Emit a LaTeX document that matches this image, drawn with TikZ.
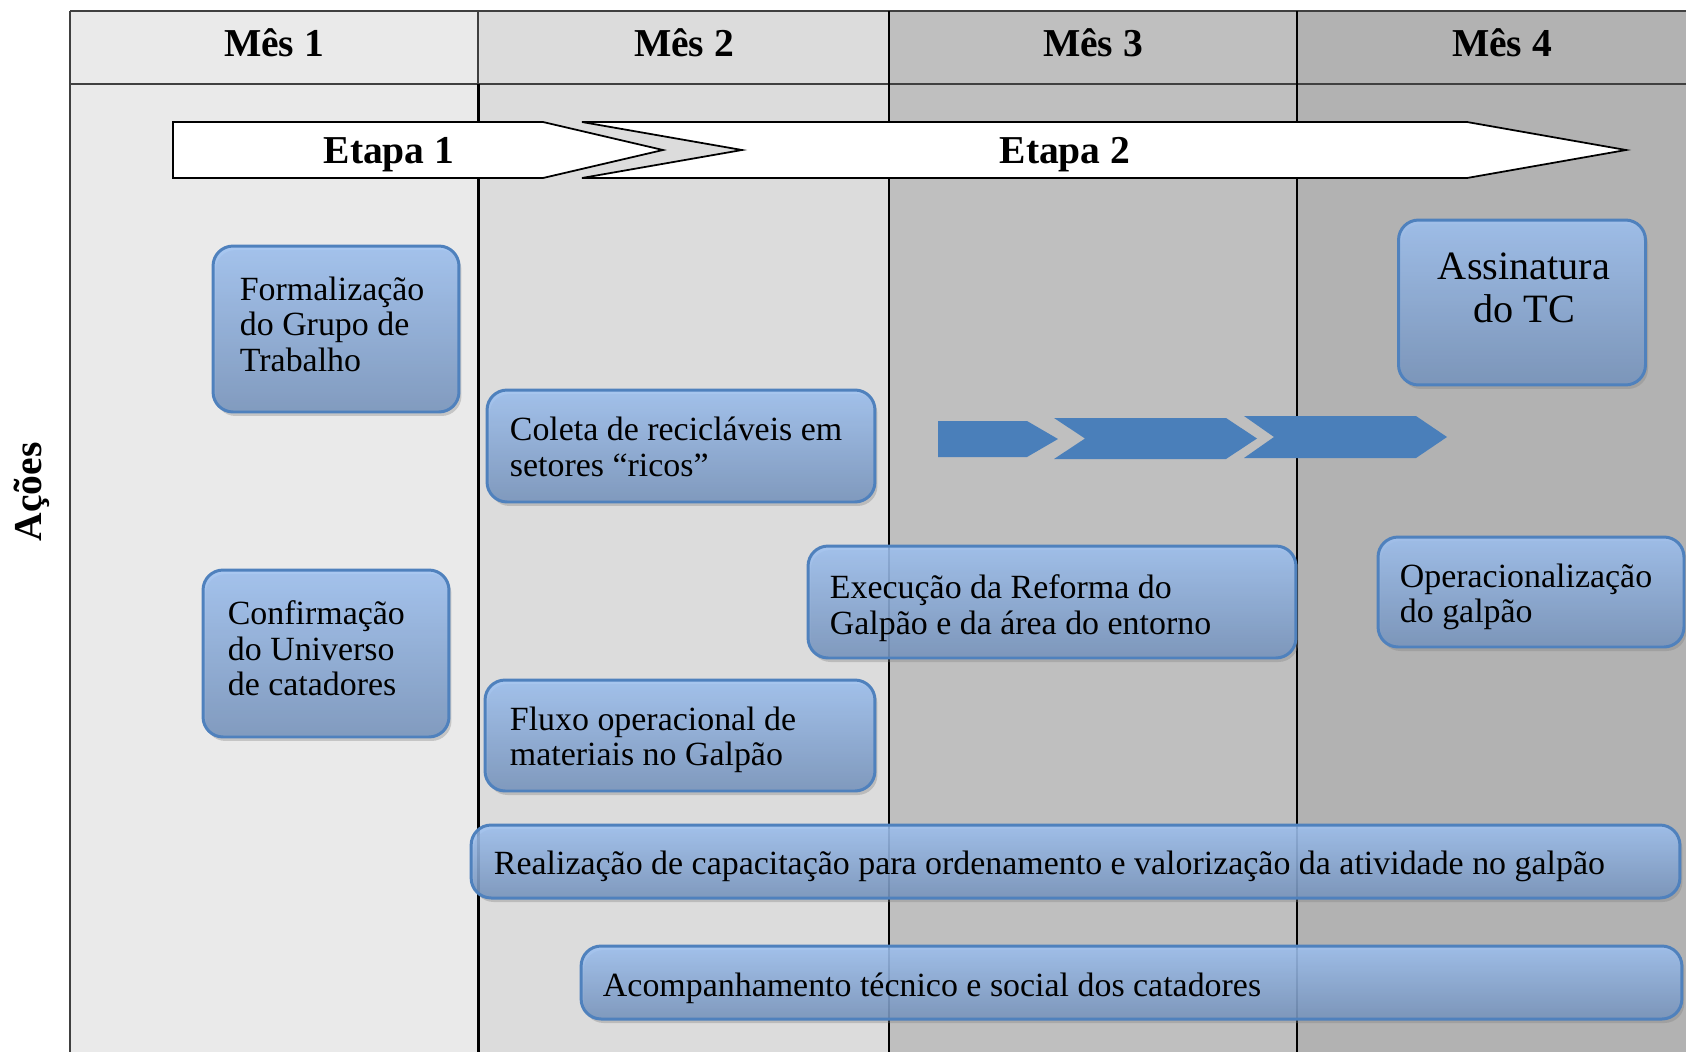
\documentclass[tikz,border=0pt]{standalone}
\usepackage{fontspec}
\setmainfont{Liberation Serif}
\usetikzlibrary{positioning,shadows}

\definecolor{mes1}{RGB}{234,234,234}
\definecolor{mes2}{RGB}{220,220,220}
\definecolor{mes3}{RGB}{191,191,191}
\definecolor{mes4}{RGB}{178,178,178}
\definecolor{boxline}{RGB}{79,129,189}
\definecolor{boxtop}{RGB}{158,194,243}
\definecolor{boxbottom}{RGB}{118,148,190}
\definecolor{chevblue}{RGB}{74,127,186}

\tikzstyle{tableline} = [draw=black!75, line width=1.1pt]
\tikzstyle{monthline} = [draw=black, line width=1.1pt]
\tikzstyle{header} = [font=\fontsize{22.5}{24}\selectfont\bfseries, anchor=base, inner sep=0pt]
\tikzstyle{stage} = [draw=black, fill=white, line width=1pt, line join=miter]
\tikzstyle{chevron} = [fill=chevblue]
\tikzstyle{task} = [draw=boxline, line width=1.7pt, rounded corners=0.4cm, top color=boxtop, bottom color=boxbottom, fill opacity=0.85, inner sep=0pt, drop shadow={shadow xshift=0.05cm, shadow yshift=-0.08cm, opacity=0.35}]
\tikzstyle{tasktext} = [inner sep=0pt, align=left, font=\fontsize{19.3}{20.2}\selectfont]

\begin{document}
\begin{tikzpicture}[x=0.02cm, y=-0.02cm]

\useasboundingbox (0,0) rectangle (1686,1052);
\fill [white] (0,0) rectangle (1686,1052);

% Months (columns)
\fill [mes1] (70,11) rectangle (478,1052);
\fill [mes2] (478,11) rectangle (889,1052);
\fill [mes3] (889,11) rectangle (1297,1052);
\fill [mes4] (1297,11) rectangle (1686,1052);

\draw [tableline] (70,11) -- (1686,11);
\draw [tableline] (70,84) -- (1686,84);
\draw [tableline] (70,11) -- (70,1052);
\draw [tableline] (478,11) -- (478,84);
\draw [monthline, line width=1.7pt] (478,84) -- (478,1052);
\draw [monthline] (889,11) -- (889,1052);
\draw [monthline] (1297,11) -- (1297,1052);

\node [header] (mes1) at (274,56) {Mês 1};
\node [header] (mes2) at (684,56) {Mês 2};
\node [header] (mes3) at (1093,56) {Mês 3};
\node [header] (mes4) at (1502,56) {Mês 4};

% Side label
\node [header, anchor=center, rotate=90] (acoes) at (32,492) {Ações};

% Etapas
\draw [stage] (173,122) -- (543,122) -- (663,150) -- (543,178) -- (173,178) -- cycle;
\draw [stage] (582,122) -- (1467,122) -- (1626,150) -- (1467,178) -- (582,178) -- (742,150) -- cycle;
\node [header] (etapa1) at (389,163) {Etapa 1};
\node [header] (etapa2) at (1065,163) {Etapa 2};

% Blue chevrons
\fill [chevron] (938,421) -- (1027,421) -- (1058,439) -- (1027,457) -- (938,457) -- cycle;
\fill [chevron] (1054,418) -- (1226,418) -- (1257,438.5) -- (1226,459) -- (1054,459) -- (1085,438.5) -- cycle;
\fill [chevron] (1244,416) -- (1416,416) -- (1447,437) -- (1416,458) -- (1244,458) -- (1274,437) -- cycle;

% Actions, month 1
\node [task, minimum width=4.92cm, minimum height=3.32cm] (form) at (336,329) {};
\node [tasktext, right=0.56cm of form.west, yshift=0.1cm] (formtext) {Formalização\\do Grupo de\\Trabalho};

\node [task, minimum width=4.92cm, minimum height=3.34cm] (conf) at (326,653.5) {};
\node [tasktext, right=0.52cm of conf.west, yshift=0.1cm] (conftext) {Confirmação\\do Universo\\de catadores};

% Actions, month 2 and 3
\node [task, minimum width=7.76cm, minimum height=2.24cm] (coleta) at (681,446) {};
\node [tasktext, right=0.48cm of coleta.west, yshift=-0.02cm] (coletatext) {Coleta de recicláveis em\\setores “ricos”};

\node [task, minimum width=7.8cm, minimum height=2.22cm] (fluxo) at (680,735.5) {};
\node [tasktext, right=0.52cm of fluxo.west, yshift=-0.09cm] (fluxotext) {Fluxo operacional de\\materiais no Galpão};

\node [task, minimum width=9.76cm, minimum height=2.24cm] (reforma) at (1052,602) {};
\node [tasktext, right=0.46cm of reforma.west, yshift=-0.12cm] (reformatext) {Execução da Reforma do\\Galpão e da área do entorno};

% Actions, month 4
\node [task, minimum width=4.94cm, minimum height=3.3cm] (tc) at (1522,302.5) {};
\node [tasktext, align=center, font=\fontsize{22.9}{24.5}\selectfont] (tctext) at (1524,288) {Assinatura\\do TC};

\node [task, minimum width=6.12cm, minimum height=2.2cm] (oper) at (1531,592) {};
\node [tasktext, right=0.46cm of oper.west, yshift=-0.1cm] (opertext) {Operacionalização\\do galpão};

% Long actions
\node [task, minimum width=24.18cm, minimum height=1.46cm] (capac) at (1075.5,861.5) {};
\node [tasktext, right=0.48cm of capac.west, yshift=-0.1cm] (capactext) {Realização de capacitação para ordenamento e valorização da atividade no galpão};

\node [task, minimum width=22.02cm, minimum height=1.46cm] (acomp) at (1131.5,982.5) {};
\node [tasktext, right=0.46cm of acomp.west, yshift=-0.12cm] (acomptext) {Acompanhamento técnico e social dos catadores};

\end{tikzpicture}
\end{document}
